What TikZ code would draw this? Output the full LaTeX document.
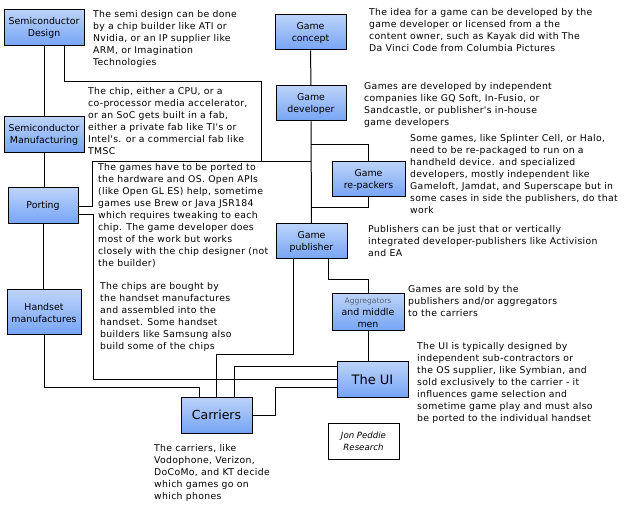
\documentclass[tikz,border=0pt]{standalone}
\usepackage{fontspec}
\setmainfont{DejaVu Sans}
\newfontfamily\notefont{DejaVu Sans}[LetterSpace=3.5]
\usetikzlibrary{positioning,calc}
\definecolor{boxtop}{RGB}{188,211,249}
\definecolor{boxbot}{RGB}{118,164,245}
\definecolor{aggrey}{RGB}{90,100,120}

\begin{document}
\begin{tikzpicture}[x=1pt,y=-1pt,
	block/.style={draw,line width=1pt,top color=boxtop,bottom color=boxbot,align=center,inner sep=0pt,font=\fontsize{9.4}{12}\selectfont},
	note/.style={anchor=north west,align=left,inner sep=0pt,font=\notefont\fontsize{9.3}{12}\selectfont},
	wire/.style={line width=1pt}]
	\useasboundingbox (0,0) rectangle (633,508);

	% left column
	\node[block,minimum width=80,minimum height=36] (semiDesign) at (44,28) {Semiconductor\\Design};
	\node[block,minimum width=80,minimum height=36] (semiManuf) at (44,135) {Semiconductor\\Manufacturing};
	\node[block,minimum width=70,minimum height=36] (porting) at (43,206) {Porting};
	\node[block,minimum width=74,minimum height=45] (handset) at (44,312.5) {Handset\\manufactures};

	% game column
	\node[block,minimum width=71,minimum height=35] (concept) at (310.5,32.5) {Game\\concept};
	\node[block,minimum width=70,minimum height=35] (developer) at (311,103.5) {Game\\developer};
	\node[block,minimum width=73,minimum height=35] (repackers) at (368.5,179.5) {Game\\re-packers};
	\node[block,minimum width=71,minimum height=35] (publisher) at (311.5,241.5) {Game\\publisher};
	\node[block,minimum width=72,minimum height=37] (aggregators) at (368,312.5) {{\fontsize{7.6}{9}\selectfont\color{aggrey}Aggregators}\\and middle\\men};
	\node[block,minimum width=71,minimum height=35,font=\fontsize{13}{15}\selectfont] (ui) at (372.5,379.5) {The UI};
	\node[block,minimum width=71,minimum height=36,font=\fontsize{12.5}{15}\selectfont] (carriers) at (216.5,415) {Carriers};
	\node[draw,line width=1pt,fill=white,minimum width=71,minimum height=36,align=center,inner sep=0pt,font=\fontsize{8.6}{12}\selectfont\itshape] (jpr) at (363.5,441) {Jon Peddie\\Research};

	% notes
	\node[note] (noteDesign) at (93,10) {The semi design can be done\\by a chip builder like ATI or\\Nvidia, or an IP supplier like\\ARM, or Imagination\\Technologies};
	\node[note] (noteChip) at (88,87) {The chip, either a CPU, or a\\co-processor media accelerator,\\or an SoC gets built in a fab,\\either a private fab like TI's or\\Intel's. or a commercial fab like\\TMSC};
	\node[note] (notePort) at (98,163.5) {The games have to be ported to\\the hardware and OS. Open APIs\\(like Open GL ES) help, sometime\\games use Brew or Java JSR184\\which requires tweaking to each\\chip. The game developer does\\most of the work but works\\closely with the chip designer (not\\the builder)};
	\node[note] (noteHandset) at (100,282) {The chips are bought by\\the handset manufactures\\and assembled into the\\handset. Some handset\\builders like Samsung also\\build some of the chips};
	\node[note] (noteIdea) at (369,8) {The idea for a game can be developed by the\\game developer or licensed from a the\\content owner, such as Kayak did with The\\Da Vinci Code from Columbia Pictures};
	\node[note] (noteDev) at (364,82) {Games are developed by independent\\companies like GQ Soft, In-Fusio, or\\Sandcastle, or publisher's in-house\\game developers};
	\node[note] (noteRepack) at (410,134) {Some games, like Splinter Cell, or Halo,\\need to be re-packaged to run on a\\handheld device. and specialized\\developers, mostly independent like\\Gameloft, Jamdat, and Superscape but in\\some cases in side the publishers, do that\\work};
	\node[note] (notePub) at (368,225) {Publishers can be just that or vertically\\integrated developer-publishers like Activision\\and EA};
	\node[note] (noteSold) at (408,285) {Games are sold by the\\publishers and/or aggregators\\to the carriers};
	\node[note] (noteUI) at (417,342) {The UI is typically designed by\\independent sub-contractors or\\the OS supplier, like Symbian, and\\sold exclusively to the carrier - it\\influences game selection and\\sometime game play and must also\\be ported to the individual handset};
	\node[note] (noteCarriers) at (154,444) {The carriers, like\\Vodophone, Verizon,\\DoCoMo, and KT decide\\which games go on\\which phones};

	% connectors
	\coordinate (j1) at (261.5,162);
	\draw[wire] (semiDesign) -- (semiManuf);
	\draw[wire] (semiManuf.south) -- (semiManuf.south |- porting.north);
	\draw[wire] (porting.south) -- (porting.south |- handset.north);
	\draw[wire] ([xshift=20pt]semiDesign.south) -- ++(0,35) -| (j1);
	\draw[wire] ([yshift=-1pt]porting.east) -- ++(14,0) |- (developer.south |- j1);
	\draw[wire] ([yshift=-9pt]porting.east) -- ++(15,0) |- (ui.west);
	\draw[wire] (handset.south) -- ++(0,52) -| ([xshift=-17.5pt]carriers.north);
	\draw[wire] ([xshift=-18.5pt]publisher.south) -- ++(0,95) -| (carriers.north);
	\draw[wire] ([xshift=17.5pt]carriers.north) |- ([yshift=12.5pt]ui.west);
	\draw[wire] (carriers.east) -- ++(23,0) |- ([yshift=-8.5pt]ui.west);
	\draw[wire] (concept) -- (developer);
	\draw[wire] (developer) -- (publisher);
	\draw[wire] (developer.south) ++(0,23) -| (repackers.north);
	\draw[wire] (repackers.south) -- ++(0,10) coordinate (r1) -- (r1 -| publisher.north);
	\draw[wire] ([xshift=16.5pt]publisher.south) -- ++(0,20) -| (aggregators.north);
	\draw[wire] (aggregators.south) -- (aggregators.south |- ui.north);
\end{tikzpicture}
\end{document}
